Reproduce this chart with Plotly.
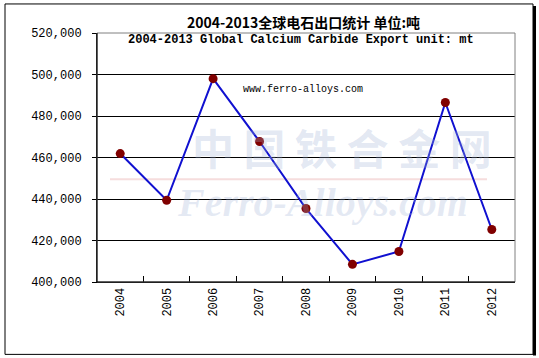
import plotly.graph_objects as go

years = ["2004", "2005", "2006", "2007", "2008", "2009", "2010", "2011", "2012"]
exports = [461900, 439400, 498000, 467700, 435400, 408500, 414700, 486500, 425300]
y_ticks = [400000, 420000, 440000, 460000, 480000, 500000, 520000]
y_ticktext = [f"{v:,}" for v in y_ticks]

title_cn = "<b>2004-2013全球电石出口统计 单位:吨</b>"
title_en = "<b>2004-2013 Global Calcium Carbide Export unit: mt</b>"
site = "www.ferro-alloys.com"

W, H = 539, 358
L, R, T, B = 97, 515, 33, 281.7


def px(x):
    return (x - L) / (R - L)


def py(y):
    return (B - y) / (B - T)


fig = go.Figure()
fig.add_trace(go.Scatter(
    x=years, y=exports, mode="lines+markers",
    line=dict(color="#1010D0", width=2),
    marker=dict(color="#800000", size=9),
    showlegend=False, hoverinfo="skip",
))

mono = "Liberation Mono"
fig.update_layout(
    width=W, height=H,
    margin=dict(l=L, r=W - R, t=T, b=H - B),
    paper_bgcolor="white", plot_bgcolor="white",
    xaxis=dict(
        type="category", showline=True, linecolor="black", linewidth=1,
        ticks="inside", tickson="boundaries", ticklen=6, tickcolor="black",
        tickangle=-90, showgrid=False, zeroline=False,
        tickfont=dict(family=mono, size=12, color="black"),
        range=[-0.5, 8.5],
    ),
    yaxis=dict(
        range=[400000, 520000], tickvals=y_ticks, ticktext=y_ticktext,
        showline=True, linecolor="black", linewidth=1,
        ticks="outside", ticklen=4, tickcolor="black",
        showgrid=True, gridcolor="black", gridwidth=1, zeroline=False,
        tickfont=dict(family=mono, size=12, color="black"),
        ticklabelstandoff=8,
    ),
    shapes=[
        # plot area border (gray top/right)
        dict(type="rect", xref="paper", yref="paper", x0=0, x1=1, y0=0, y1=1,
             line=dict(color="#808080", width=1), layer="above"),
        dict(type="line", xref="paper", yref="paper", x0=0, x1=0, y0=0, y1=1,
             line=dict(color="black", width=1), layer="above"),
        dict(type="line", xref="paper", yref="paper", x0=0, x1=1, y0=0, y1=0,
             line=dict(color="black", width=1), layer="above"),
        # outer frame
        dict(type="rect", xref="paper", yref="paper",
             x0=px(5), x1=px(533), y0=py(354), y1=py(4),
             line=dict(color="black", width=1), layer="above"),
        dict(type="line", xref="paper", yref="paper",
             x0=px(534.5), x1=px(534.5), y0=py(355), y1=py(6),
             line=dict(color="black", width=3), layer="above"),
        # watermark underline
        dict(type="line", xref="paper", yref="paper",
             x0=px(110), x1=px(487), y0=py(179), y1=py(179),
             line=dict(color="rgba(235,180,180,0.45)", width=2), layer="below"),
    ],
    annotations=[
        dict(text="<b>中 国 铁 合 金 网</b>", xref="paper", yref="paper", x=px(342), y=py(146),
             showarrow=False, xanchor="center", yanchor="middle",
             font=dict(family="Noto Sans CJK SC", size=42, color="rgba(160,180,215,0.3)")),
        dict(text="<b><i>Ferro-Alloys.com</i></b>", xref="paper", yref="paper",
             x=px(322), y=py(202), showarrow=False, xanchor="center", yanchor="middle",
             font=dict(family="Liberation Serif", size=40, color="rgba(160,180,215,0.28)")),
        dict(text=title_cn, xref="paper", yref="paper", x=px(303.5), y=py(22),
             showarrow=False, xanchor="center", yanchor="middle",
             font=dict(family="Noto Sans CJK SC", size=14, color="black")),
        dict(text=title_en, xref="paper", yref="paper", x=px(301), y=py(40),
             showarrow=False, xanchor="center", yanchor="middle",
             font=dict(family=mono, size=12, color="black")),
        dict(text=site, xref="paper", yref="paper", x=px(302.5), y=py(89),
             showarrow=False, xanchor="center", yanchor="middle",
             font=dict(family=mono, size=10, color="black")),
    ],
)

fig.write_html("out.html")
